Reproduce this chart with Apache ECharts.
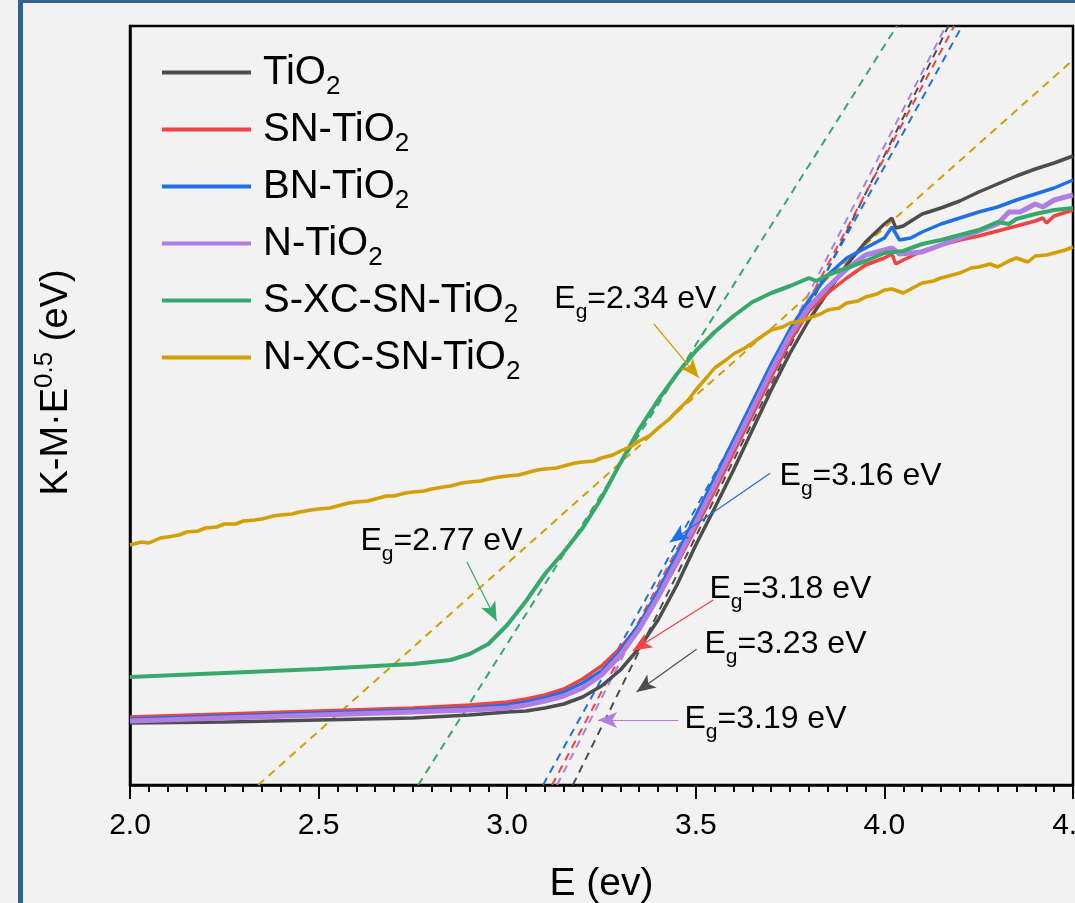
<!DOCTYPE html>
<html>
<head>
<meta charset="utf-8">
<title>K-M band gap plot</title>
<script src="https://cdn.jsdelivr.net/npm/echarts@6/dist/echarts.min.js"></script>
<style>
  html, body { margin: 0; padding: 0; background: #f2f2f2; }
  #chart { width: 1075px; height: 903px; }
</style>
</head>
<body>
<div id="chart"></div>
<script>
// sample names and colours (legend order)
var names = ['TiO2', 'SN-TiO2', 'BN-TiO2', 'N-TiO2', 'S-XC-SN-TiO2', 'N-XC-SN-TiO2'];
var colors = ['#4d4d4d', '#f04343', '#1f6fe5', '#b07ee3', '#36a86b', '#d29e00'];
var widths = [3.5, 3.5, 3.5, 5, 4, 3.5];
var xTickLabels = ['2.0', '2.5', '3.0', '3.5', '4.0', '4.5'];

// curves: [E (eV), K-M*E^0.5 (a.u.)]
var tio2 = [[2.0,62],[2.25,63],[2.5,65],[2.75,67],[2.9,70],[3.0,73],[3.05,74],[3.1,77],[3.15,81],[3.2,88],[3.25,99],[3.3,115],[3.35,137],[3.4,165],[3.45,200],[3.5,240],[3.55,277],[3.6,315],[3.65,355],[3.7,395],[3.75,432],[3.8,465],[3.85,493],[3.9,520],[3.95,543],[4.0,561],[4.02,567],[4.03,557],[4.05,559],[4.1,571],[4.15,577],[4.2,584],[4.25,593],[4.3,601],[4.35,609],[4.4,616],[4.45,622],[4.5,629]];
var snTio2 = [[2.0,68],[2.25,71],[2.5,74],[2.75,77],[2.9,80],[3.0,83],[3.05,86],[3.1,90],[3.15,96],[3.2,106],[3.25,119],[3.3,137],[3.35,160],[3.4,188],[3.45,221],[3.5,257],[3.55,294],[3.6,332],[3.65,370],[3.7,408],[3.75,444],[3.8,474],[3.85,492],[3.9,507],[3.95,520],[4.0,527],[4.02,531],[4.03,521],[4.05,525],[4.1,534],[4.15,540],[4.2,545],[4.25,549],[4.3,554],[4.35,559],[4.4,564],[4.42,567],[4.43,562],[4.45,569],[4.5,575]];
var bnTio2 = [[2.0,66],[2.25,69],[2.5,72],[2.75,75],[2.9,77],[3.0,80],[3.05,83],[3.1,87],[3.15,93],[3.2,102],[3.25,114],[3.3,134],[3.35,161],[3.4,194],[3.45,231],[3.5,269],[3.55,307],[3.6,345],[3.65,383],[3.7,421],[3.75,456],[3.8,485],[3.85,510],[3.9,527],[3.95,537],[4.0,547],[4.02,558],[4.04,545],[4.07,547],[4.1,553],[4.15,561],[4.2,567],[4.25,573],[4.3,578],[4.35,585],[4.4,591],[4.45,597],[4.5,605]];
var nTio2 = [[2.0,64],[2.25,67],[2.5,70],[2.75,73],[2.9,75],[3.0,77],[3.05,80],[3.1,84],[3.15,89],[3.2,97],[3.25,110],[3.3,130],[3.35,156],[3.4,188],[3.45,224],[3.5,262],[3.55,300],[3.6,338],[3.65,376],[3.7,414],[3.75,450],[3.8,478],[3.85,498],[3.9,516],[3.95,530],[4.0,535],[4.02,537],[4.04,531],[4.1,533],[4.15,540],[4.2,547],[4.25,554],[4.3,561],[4.33,573],[4.36,573],[4.4,581],[4.42,578],[4.45,585],[4.5,590]];
var sxcTio2 = [[2.0,108],[2.25,112],[2.5,116],[2.75,121],[2.85,125],[2.9,131],[2.95,141],[3.0,160],[3.05,184],[3.1,211],[3.15,233],[3.2,257],[3.25,287],[3.3,322],[3.35,356],[3.4,385],[3.45,411],[3.5,434],[3.55,453],[3.6,469],[3.65,483],[3.7,492],[3.75,499],[3.8,507],[3.82,504],[3.85,510],[3.9,517],[3.95,524],[4.0,532],[4.05,534],[4.1,541],[4.15,545],[4.2,550],[4.25,555],[4.3,563],[4.33,561],[4.35,566],[4.4,571],[4.45,575],[4.5,577]];
var nxcTio2 = [[2.0,240],[2.03,243],[2.05,242],[2.08,247],[2.1,248],[2.13,250],[2.15,253],[2.18,254],[2.2,257],[2.23,258],[2.25,261],[2.28,261],[2.3,264],[2.33,265],[2.35,266],[2.38,269],[2.4,270],[2.43,271],[2.45,273],[2.48,275],[2.5,276],[2.53,277],[2.55,279],[2.58,282],[2.6,283],[2.63,284],[2.65,286],[2.68,289],[2.7,289],[2.73,292],[2.75,293],[2.78,294],[2.8,296],[2.83,298],[2.85,299],[2.88,302],[2.9,303],[2.93,304],[2.95,306],[2.98,308],[3.0,309],[3.03,310],[3.05,312],[3.08,315],[3.1,316],[3.13,317],[3.15,319],[3.18,322],[3.2,323],[3.23,324],[3.25,327],[3.28,330],[3.3,334],[3.33,339],[3.35,344],[3.38,350],[3.4,357],[3.43,366],[3.45,374],[3.48,385],[3.5,395],[3.53,408],[3.55,417],[3.58,425],[3.6,431],[3.63,437],[3.65,442],[3.68,450],[3.7,455],[3.73,458],[3.75,462],[3.78,464],[3.8,467],[3.83,471],[3.85,475],[3.88,477],[3.9,482],[3.93,484],[3.95,488],[3.98,491],[4.0,495],[4.02,496],[4.05,492],[4.08,498],[4.1,502],[4.13,504],[4.15,507],[4.18,510],[4.2,512],[4.23,517],[4.25,518],[4.28,521],[4.3,518],[4.33,524],[4.35,527],[4.38,523],[4.4,529],[4.43,530],[4.45,532],[4.48,535],[4.5,538]];
var curves = [tio2, snTio2, bnTio2, nTio2, sxcTio2, nxcTio2];

// linear fits (dashed), two ends each
var tio2Fit = [[3.174,0],[4.170,759]];
var snFit = [[3.119,0],[4.185,759]];
var bnFit = [[3.095,0],[4.206,759]];
var nFit = [[3.132,0],[4.163,759]];
var sxcFit = [[2.764,0],[4.033,759]];
var nxcFit = [[2.34,0],[4.5,725]];
var fits = [tio2Fit, snFit, bnFit, nFit, sxcFit, nxcFit];

// band gap annotations
var egValues = ['3.23', '3.18', '3.16', '3.19', '2.77', '2.34'];
var egLabelAt = [[3.523,140.4],[3.536,195.4],[3.722,308.4],[3.470,65.4],[2.611,243.4],[3.125,485.4]];
var arrowFrom = [[3.502,135.7],[3.546,185],[3.697,311.7],[3.454,65],[2.893,223.3],[3.389,461]];
var arrowTo = [[3.343,92.9],[3.333,134.3],[3.431,242.8],[3.241,65],[2.972,163.9],[3.508,407.2]];

var FONT = '"Liberation Sans", Arial, sans-serif';

var chart = echarts.init(document.getElementById('chart'));

var series = [];
fits.forEach(function (d, i) {
  series.push({
    name: names[i] + ' fit',
    type: 'line',
    data: d,
    symbol: 'none',
    z: 2,
    lineStyle: { color: colors[i], width: 2, type: [8, 6] },
    markLine: {
      silent: true,
      animation: false,
      symbol: ['none', 'arrow'],
      label: { show: false },
      lineStyle: { color: colors[i], width: 1.2, type: 'solid' },
      data: [[
        { coord: arrowFrom[i], symbol: 'none' },
        { coord: arrowTo[i], symbol: 'arrow', symbolSize: [12, 19] }
      ]]
    },
    markPoint: {
      silent: true,
      animation: false,
      symbolSize: 0,
      data: [{
        coord: egLabelAt[i],
        label: {
          show: true,
          position: 'right',
          distance: 0,
          color: '#000',
          fontFamily: FONT,
          fontSize: 32,
          formatter: function () { return '{m|E}{s|g}{m|=' + egValues[i] + ' eV}'; },
          rich: {
            m: { fontSize: 32, lineHeight: 47, fontFamily: FONT, color: '#000' },
            s: { fontSize: 21, lineHeight: 21, verticalAlign: 'bottom', fontFamily: FONT, color: '#000' }
          }
        }
      }]
    }
  });
});
curves.forEach(function (d, i) {
  series.push({
    name: names[i],
    type: 'line',
    data: d,
    symbol: 'none',
    z: 3,
    lineStyle: { color: colors[i], width: widths[i] },
    itemStyle: { color: colors[i] }
  });
});

var option = {
  animation: false,
  backgroundColor: '#f2f2f2',
  grid: {
    left: 130, right: 2, top: 26, bottom: 118,
    outerBoundsMode: 'none', containLabel: false,
    show: true, borderColor: '#000', borderWidth: 2.5, backgroundColor: 'transparent'
  },
  legend: {
    orient: 'vertical',
    left: 162,
    top: 45,
    padding: 0,
    itemGap: 2,
    itemWidth: 89,
    itemHeight: 4,
    icon: 'rect',
    selectedMode: false,
    data: names,
    formatter: function (n) { return '{m|' + n.slice(0, -1) + '}{s|2}'; },
    textStyle: {
      color: '#000',
      fontFamily: FONT,
      fontSize: 40,
      lineHeight: 55,
      padding: [0, 0, 0, 7],
      rich: {
        m: { fontSize: 40, lineHeight: 55, fontFamily: FONT, color: '#000' },
        s: { fontSize: 26, lineHeight: 24, verticalAlign: 'bottom', fontFamily: FONT, color: '#000' }
      }
    }
  },
  xAxis: {
    type: 'value',
    min: 2,
    max: 4.5,
    interval: 0.5,
    name: 'E (ev)',
    nameLocation: 'middle',
    nameGap: 80,
    nameTextStyle: { fontSize: 39, color: '#000', fontFamily: FONT },
    axisLine: { lineStyle: { color: '#000', width: 2.5 } },
    axisTick: { show: true, inside: false, length: 14, lineStyle: { color: '#000', width: 2 } },
    minorTick: { show: true, splitNumber: 10, length: 7, lineStyle: { color: '#000', width: 2 } },
    splitLine: { show: false },
    minorSplitLine: { show: false },
    axisLabel: {
      fontSize: 30, margin: 26, color: '#000', fontFamily: FONT, showMaxLabel: true, hideOverlap: false,
      formatter: function (v) { return xTickLabels[Math.round((v - 2) / 0.5)]; }
    }
  },
  yAxis: {
    type: 'value',
    min: 0,
    max: 759,
    axisLine: { show: true, lineStyle: { color: '#000', width: 2.5 } },
    axisTick: { show: false },
    axisLabel: { show: false },
    splitLine: { show: false }
  },
  graphic: [
    { type: 'rect', left: 18, top: 0, shape: { width: 5, height: 903 }, style: { fill: '#34628c' }, z: -1 },
    { type: 'rect', left: 18, top: 0, shape: { width: 1057, height: 3 }, style: { fill: '#34628c' }, z: -1 },
    {
      type: 'text', x: 57, y: 382.5, rotation: Math.PI / 2,
      style: {
        text: '{m|K-M·E}{p|0.5}{m| (eV)}',
        align: 'center', verticalAlign: 'middle', fill: '#000',
        fontFamily: FONT,
        rich: {
          m: { fontSize: 38, lineHeight: 51, fontFamily: FONT, fill: '#000' },
          p: { fontSize: 26, lineHeight: 26, verticalAlign: 'top', fontFamily: FONT, fill: '#000' }
        }
      }
    }
  ],
  series: series
};

chart.setOption(option);
</script>
</body>
</html>
